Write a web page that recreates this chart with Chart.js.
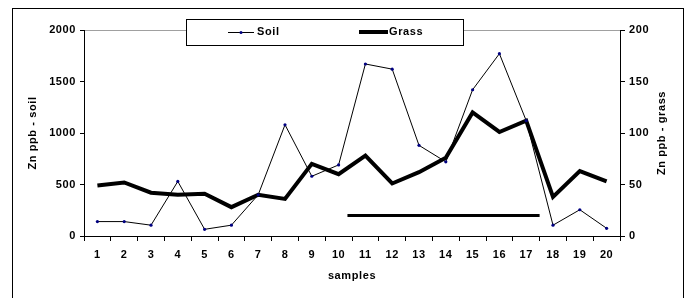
<!DOCTYPE html>
<html lang="en">
<head>
  <meta charset="UTF-8">
  <title>Zn ppb - soil / grass</title>
  <script src="https://cdn.jsdelivr.net/npm/chart.js"></script>
  <style>
    body { margin: 0; background: #fff; overflow: hidden; }
    #wrap { position: relative; width: 688px; height: 298px; }
  </style>
</head>
<body>
  <div id="wrap"><canvas id="grafico_zn"></canvas></div>

<script>
  const samples = ['1','2','3','4','5','6','7','8','9','10','11','12','13','14','15','16','17','18','19','20'];
  const soil = [140, 140, 105, 530, 65, 105, 400, 1080, 580, 690, 1670, 1620, 880, 720, 1420, 1770, 1120, 105, 255, 75];
  const grass = [49, 52, 42, 40, 41, 28, 40, 36, 70, 60, 78, 51, 62, 76, 120, 101, 112, 38, 63, 53];
  // horizontal bar drawn across samples (index positions, grass axis level)
  const barFrom = 9.33, barTo = 16.5, barLevel = 20;

  const fonte = { family: 'Arial, "Liberation Sans", sans-serif', size: 11, weight: 'bold' };

  // excel-ish wide text
  const espacamento = {
    id: 'espacamento',
    beforeDraw(chart) { chart.ctx.letterSpacing = '0.6px'; }
  };

  // outer frame, right axis title (reads bottom-up) and boxed legend
  const moldura = {
    id: 'moldura',
    afterDraw(chart) {
      const ctx = chart.ctx;
      const area = chart.chartArea;
      ctx.save();
      ctx.strokeStyle = '#000';
      ctx.lineWidth = 1;
      ctx.strokeRect(12.5, 8.5, 671, 300);
      ctx.beginPath(); ctx.moveTo(683.5, 8); ctx.lineTo(683.5, 298); ctx.stroke();

      ctx.font = 'bold 11px Arial, "Liberation Sans", sans-serif';
      ctx.fillStyle = '#000';
      ctx.textBaseline = 'middle';

      // right axis title
      ctx.save();
      ctx.translate(662, (area.top + area.bottom) / 2);
      ctx.rotate(-Math.PI / 2);
      ctx.textAlign = 'center';
      ctx.fillText('Zn ppb - grass', 0, 0);
      ctx.restore();

      // legend box
      ctx.fillStyle = '#fff';
      ctx.fillRect(186, 19, 278, 26);
      ctx.strokeRect(186.5, 19.5, 277, 26);
      const ds = chart.data.datasets;
      const yy = 32;
      ctx.fillStyle = '#000';
      // Soil
      ctx.lineWidth = ds[0].borderWidth;
      ctx.beginPath(); ctx.moveTo(228, yy + 0.5); ctx.lineTo(254, yy + 0.5); ctx.stroke();
      ctx.fillStyle = ds[0].pointBackgroundColor;
      ctx.beginPath(); ctx.arc(241, yy + 0.5, 1.5, 0, Math.PI * 2); ctx.fill();
      ctx.fillStyle = '#000';
      ctx.fillText(ds[0].label, 257, yy);
      // Grass
      ctx.lineWidth = ds[1].borderWidth;
      ctx.beginPath(); ctx.moveTo(359, yy); ctx.lineTo(388, yy); ctx.stroke();
      ctx.fillText(ds[1].label, 389, yy);
      ctx.restore();
    }
  };

  const data = {
    labels: samples,
    datasets: [
      {
        label: 'Soil',
        data: soil,
        yAxisID: 'y',
        borderColor: '#000',
        borderWidth: 1,
        pointRadius: 1.6,
        pointBorderWidth: 0,
        pointBackgroundColor: '#000080',
        tension: 0
      },
      {
        label: 'Grass',
        data: grass,
        yAxisID: 'y1',
        borderColor: '#000',
        borderWidth: 4,
        pointRadius: 0,
        tension: 0
      },
      {
        label: '',
        data: [{ x: barFrom, y: barLevel }, { x: barTo, y: barLevel }],
        xAxisID: 'x2',
        yAxisID: 'y1',
        borderColor: '#000',
        borderWidth: 3,
        pointRadius: 0
      }
    ]
  };

  const config = {
    type: 'line',
    data: data,
    options: {
      responsive: true,
      maintainAspectRatio: false,
      animation: false,
      layout: { padding: { top: 30, left: 0, right: 0, bottom: 0 } },
      plugins: { legend: { display: false }, tooltip: { enabled: false } },
      scales: {
        x: {
          type: 'category',
          offset: true,
          grid: { offset: true, drawOnChartArea: false, tickLength: 5, tickColor: '#000' },
          border: { color: '#000', width: 1 },
          ticks: { color: '#000', font: fonte, padding: 7, maxRotation: 0, autoSkip: false },
          title: { display: true, text: 'samples', color: '#000', font: fonte, padding: { top: 0, bottom: 15 } },
          afterFit(s) { s.height = 62; }
        },
        x2: {
          type: 'linear',
          display: false,
          min: -0.5,
          max: 19.5
        },
        y: {
          position: 'left',
          min: 0, max: 2000,
          grid: {
            color: c => (c.tick && c.tick.value === 2000 ? '#a0a0a0' : 'rgba(0,0,0,0)'),
            tickColor: '#000', tickLength: 4
          },
          border: { color: '#000', width: 1 },
          ticks: { stepSize: 500, color: '#000', font: fonte, padding: 4, callback: v => String(v) },
          title: { display: true, text: 'Zn ppb - soil', color: '#000', font: fonte, padding: { top: 26, bottom: 0 } },
          afterFit(s) { s.width = 84; }
        },
        y1: {
          position: 'right',
          min: 0, max: 200,
          grid: { drawOnChartArea: false, tickColor: '#000', tickLength: 5 },
          border: { color: '#000', width: 1 },
          ticks: { stepSize: 50, color: '#000', font: fonte, padding: 4, callback: v => String(v) },
          title: { display: false },
          afterFit(s) { s.width = 68; }
        }
      }
    },
    plugins: [espacamento, moldura]
  };

  const meuGrafico = new Chart(document.getElementById('grafico_zn'), config);
</script>
</body>
</html>
